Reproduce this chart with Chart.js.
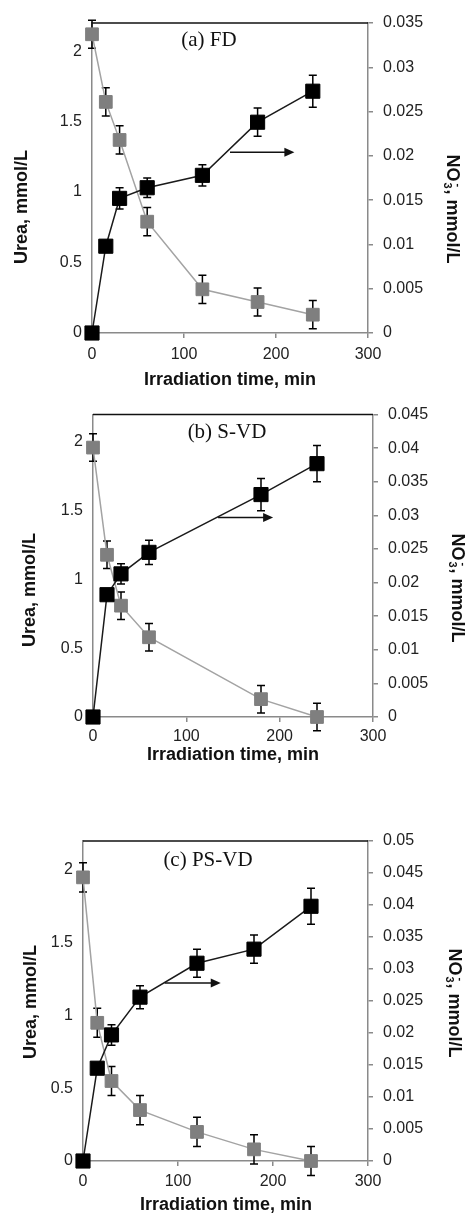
<!DOCTYPE html>
<html>
<head>
<meta charset="utf-8">
<script src="https://cdn.jsdelivr.net/npm/chart.js@4.4.1/dist/chart.umd.min.js"></script>
<style>
  body { margin: 0; background: #fff; }
  #quadro { position: relative; width: 466px; height: 1214px; }
  canvas { position: absolute; left: 0; }
</style>
</head>
<body>
<div id="quadro">
  <canvas id="painelA" width="466" height="395" style="top:0px"></canvas>
  <canvas id="painelB" width="466" height="380" style="top:395px"></canvas>
  <canvas id="painelC" width="466" height="439" style="top:775px"></canvas>
</div>
<script>
// (a) FD
const tempoFD = [0, 15, 30, 60, 120, 180, 240];
const ureiaFD = [2.12, 1.64, 1.37, 0.79, 0.31, 0.22, 0.13];
const erroUreiaFD = [0.1, 0.1, 0.1, 0.1, 0.1, 0.1, 0.1];
const nitratoFD = [0, 0.0098, 0.0152, 0.0164, 0.0178, 0.0238, 0.0273];
const erroNitratoFD = [0, 0, 0.0012, 0.0011, 0.0012, 0.0016, 0.0018];

// (b) S-VD (sem ponto em 120 min)
const tempoSVD = [0, 15, 30, 60, 180, 240];
const ureiaSVD = [1.96, 1.18, 0.81, 0.58, 0.13, 0];
const erroUreiaSVD = [0.1, 0.1, 0.1, 0.1, 0.1, 0.1];
const nitratoSVD = [0, 0.0182, 0.0213, 0.0245, 0.0331, 0.0377];
const erroNitratoSVD = [0, 0, 0.0015, 0.0018, 0.0024, 0.0027];

// (c) PS-VD
const tempoPSVD = [0, 15, 30, 60, 120, 180, 240];
const ureiaPSVD = [1.95, 0.95, 0.55, 0.35, 0.2, 0.08, 0];
const erroUreiaPSVD = [0.1, 0.1, 0.1, 0.1, 0.1, 0.1, 0.1];
const nitratoPSVD = [0, 0.0145, 0.0197, 0.0256, 0.0309, 0.0331, 0.0398];
const erroNitratoPSVD = [0, 0, 0.0016, 0.0018, 0.0022, 0.0022, 0.0028];

// ticks dos eixos
const ticksTempo = [0, 100, 200, 300];
const ticksUreia = [0, 0.5, 1, 1.5, 2];
const maxUreia = 2.2;
const ticksNitratoFD = [0, 0.005, 0.01, 0.015, 0.02, 0.025, 0.03, 0.035];
const ticksNitratoSVD = [0, 0.005, 0.01, 0.015, 0.02, 0.025, 0.03, 0.035, 0.04, 0.045];
const ticksNitratoPSVD = [0, 0.005, 0.01, 0.015, 0.02, 0.025, 0.03, 0.035, 0.04, 0.045, 0.05];

// setas: [x inicial, x final, valor no eixo direito]
const setaFD = [150, 220, 0.0204];
const setaSVD = [134, 193, 0.0297];
const setaPSVD = [86, 145, 0.0278];

const fonteSans = '"Liberation Sans", Arial, sans-serif';
const corEixo = '#8a8a8a';

function pares(xs, ys) {
  return xs.map((x, i) => ({ x, y: ys[i] }));
}

function tituloNitrato(ctx, cx, cy) {
  ctx.save();
  ctx.translate(cx, cy);
  ctx.rotate(Math.PI / 2);
  const grande = 'bold 18px ' + fonteSans;
  const pequeno = 'bold 11px ' + fonteSans;
  ctx.font = grande;
  const w1 = ctx.measureText('NO').width;
  const w3 = ctx.measureText(', mmol/L').width;
  ctx.font = pequeno;
  const w2 = ctx.measureText('3').width + 2;
  let x = -(w1 + w2 + w3) / 2;
  ctx.textBaseline = 'middle';
  ctx.textAlign = 'left';
  ctx.fillStyle = '#111';
  ctx.font = grande;
  ctx.fillText('NO', x, 0);
  x += w1;
  ctx.font = pequeno;
  ctx.fillText('3', x + 1, 5);
  ctx.fillText('-', x + 2, -6);
  x += w2;
  ctx.font = grande;
  ctx.fillText(', mmol/L', x, 0);
  ctx.restore();
}

const extras = {
  id: 'extras',
  beforeDatasetsDraw(chart) {
    // barras de erro (ficam por baixo dos marcadores)
    const ctx = chart.ctx;
    const xs = chart.scales.x;
    ctx.save();
    ctx.strokeStyle = '#000';
    ctx.lineWidth = 1.5;
    chart.data.datasets.forEach(ds => {
      const ys = chart.scales[ds.yAxisID];
      ds.data.forEach((p, j) => {
        const e = ds.erros[j];
        if (!e) return;
        const px = xs.getPixelForValue(p.x);
        const topo = ys.getPixelForValue(p.y + e);
        const base = ys.getPixelForValue(p.y - e);
        ctx.beginPath();
        ctx.moveTo(px, topo); ctx.lineTo(px, base);
        ctx.moveTo(px - 4, topo); ctx.lineTo(px + 4, topo);
        ctx.moveTo(px - 4, base); ctx.lineTo(px + 4, base);
        ctx.stroke();
      });
    });
    ctx.restore();
  },
  afterDraw(chart, args, o) {
    const ctx = chart.ctx;
    const area = chart.chartArea;
    ctx.save();
    // linha de cima
    ctx.strokeStyle = '#111';
    ctx.lineWidth = 1.5;
    ctx.beginPath();
    ctx.moveTo(area.left, area.top);
    ctx.lineTo(area.right, area.top);
    ctx.stroke();

    // seta
    const xs = chart.scales.x, y1 = chart.scales.y1;
    const ax = xs.getPixelForValue(o.seta[0]);
    const bx = xs.getPixelForValue(o.seta[1]);
    const ay = y1.getPixelForValue(o.seta[2]);
    ctx.lineWidth = 1.5;
    ctx.beginPath();
    ctx.moveTo(ax, ay); ctx.lineTo(bx - 8, ay);
    ctx.stroke();
    ctx.fillStyle = '#111';
    ctx.beginPath();
    ctx.moveTo(bx, ay); ctx.lineTo(bx - 10, ay - 4.5); ctx.lineTo(bx - 10, ay + 4.5);
    ctx.closePath();
    ctx.fill();

    // rótulo do painel
    ctx.fillStyle = '#111';
    ctx.font = '21px "Liberation Serif", "Times New Roman", serif';
    ctx.textAlign = 'center';
    ctx.textBaseline = 'middle';
    ctx.fillText(o.rotulo, o.rotuloPos[0], o.rotuloPos[1]);

    // títulos dos eixos
    ctx.font = 'bold 18px ' + fonteSans;
    ctx.fillText('Irradiation time, min', o.tituloX[0], o.tituloX[1]);
    ctx.save();
    ctx.translate(o.tituloEsq[0], o.tituloEsq[1]);
    ctx.rotate(-Math.PI / 2);
    ctx.fillText('Urea, mmol/L', 0, 0);
    ctx.restore();
    tituloNitrato(ctx, o.tituloDir[0], o.tituloDir[1]);
    ctx.restore();
  }
};

function criarPainel(id, tempo, ureia, erroUreia, nitrato, erroNitrato, ticksNitrato, seta, lay) {
  new Chart(document.getElementById(id), {
    type: 'line',
    data: {
      datasets: [{
        label: 'Urea',
        data: pares(tempo, ureia),
        erros: erroUreia,
        yAxisID: 'y',
        order: 1,
        borderColor: '#a3a3a3',
        borderWidth: 1.5,
        pointStyle: 'rect',
        pointRadius: 9,
        pointBackgroundColor: '#7f7f7f',
        pointBorderColor: '#7f7f7f',
        pointBorderWidth: 1,
        clip: false
      }, {
        label: 'NO3-',
        data: pares(tempo, nitrato),
        erros: erroNitrato,
        yAxisID: 'y1',
        order: 0,
        borderColor: '#1a1a1a',
        borderWidth: 1.5,
        pointStyle: 'rect',
        pointRadius: 10,
        pointBackgroundColor: '#000',
        pointBorderColor: '#000',
        pointBorderWidth: 1,
        clip: false
      }]
    },
    options: {
      responsive: false,
      animation: false,
      devicePixelRatio: 1,
      layout: { padding: { top: lay.topo, left: 0, right: 0, bottom: 0 } },
      plugins: {
        legend: { display: false },
        tooltip: { enabled: false },
        extras: {
          seta,
          rotulo: lay.rotulo,
          rotuloPos: lay.rotuloPos,
          tituloX: lay.tituloX,
          tituloEsq: lay.tituloEsq,
          tituloDir: lay.tituloDir
        }
      },
      scales: {
        x: {
          type: 'linear',
          min: 0, max: 300,
          afterBuildTicks: s => { s.ticks = ticksTempo.map(v => ({ value: v })); },
          afterFit: s => { s.height = lay.alturaX; },
          grid: { drawOnChartArea: false, drawTicks: true, tickLength: 5, color: corEixo, lineWidth: 1.5 },
          border: { color: corEixo, width: 1.5 },
          ticks: { color: '#222', font: { family: fonteSans, size: 16 }, padding: lay.padX, maxRotation: 0, callback: v => String(v) }
        },
        y: {
          position: 'left',
          min: 0, max: maxUreia,
          afterBuildTicks: s => { s.ticks = ticksUreia.map(v => ({ value: v })); },
          afterFit: s => { s.width = lay.esq; },
          grid: { display: false, drawTicks: false },
          border: { color: corEixo, width: 1.5 },
          ticks: { color: '#222', font: { family: fonteSans, size: 16 }, padding: 10, callback: v => String(v) }
        },
        y1: {
          position: 'right',
          min: 0, max: ticksNitrato[ticksNitrato.length - 1],
          afterBuildTicks: s => { s.ticks = ticksNitrato.map(v => ({ value: v })); },
          afterFit: s => { s.width = lay.dir; },
          grid: { drawOnChartArea: false, drawTicks: true, tickLength: 5, color: corEixo, lineWidth: 1.5 },
          border: { color: corEixo, width: 1.5 },
          ticks: { color: '#222', font: { family: fonteSans, size: 16 }, padding: 10, callback: v => String(v) }
        }
      }
    },
    plugins: [extras]
  });
}

criarPainel('painelA', tempoFD, ureiaFD, erroUreiaFD, nitratoFD, erroNitratoFD, ticksNitratoFD, setaFD, {
  topo: 23, esq: 92, dir: 98, alturaX: 62, padX: 7,
  rotulo: '(a) FD', rotuloPos: [209, 40],
  tituloX: [230, 380], tituloEsq: [22, 207], tituloDir: [452, 209]
});

criarPainel('painelB', tempoSVD, ureiaSVD, erroUreiaSVD, nitratoSVD, erroNitratoSVD, ticksNitratoSVD, setaSVD, {
  topo: 17, esq: 93, dir: 93, alturaX: 58, padX: 5,
  rotulo: '(b) S-VD', rotuloPos: [227, 37],
  tituloX: [233, 360], tituloEsq: [30, 195], tituloDir: [457, 193]
});

criarPainel('painelC', tempoPSVD, ureiaPSVD, erroUreiaPSVD, nitratoPSVD, erroNitratoPSVD, ticksNitratoPSVD, setaPSVD, {
  topo: 66, esq: 83, dir: 98, alturaX: 53, padX: 6,
  rotulo: '(c) PS-VD', rotuloPos: [208, 85],
  tituloX: [226, 430], tituloEsq: [31, 227], tituloDir: [454, 228]
});
</script>
</body>
</html>
